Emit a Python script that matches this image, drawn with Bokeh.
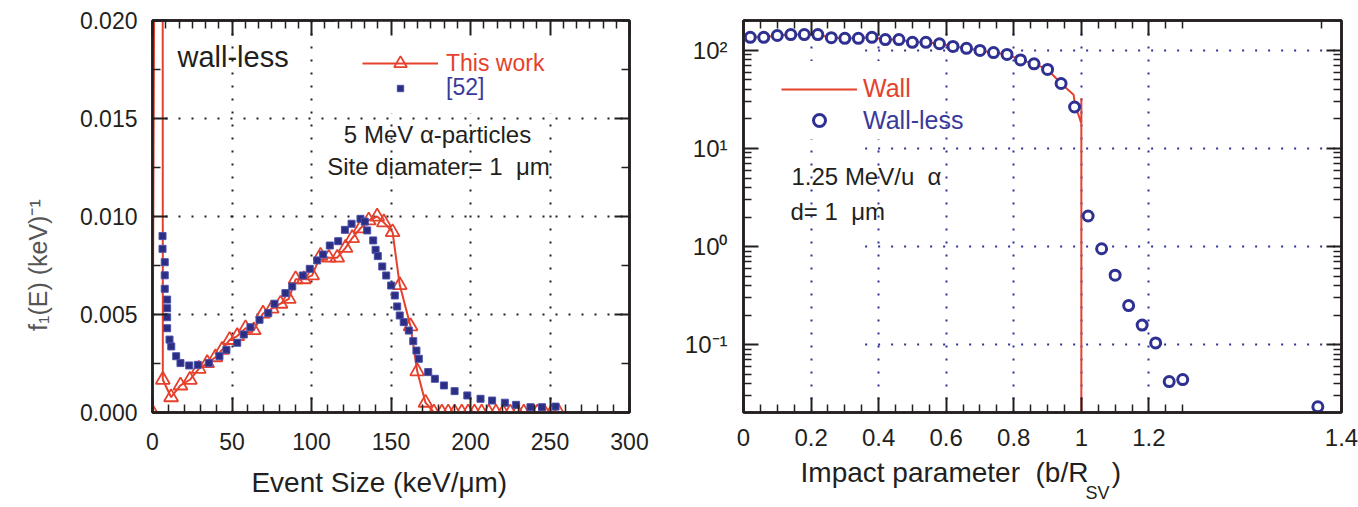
from bokeh.plotting import figure
from bokeh.layouts import row
from bokeh.models import (Range1d, LinearAxis, LogAxis, FixedTicker, Label, Legend, LegendItem,
                          BoxAnnotation, CustomJSTickFormatter, PrintfTickFormatter)
from bokeh.embed import file_html
from bokeh.resources import INLINE

FONT = "'Liberation Sans', Arial, sans-serif"
BLACK = "#231f20"
GRAY = "#555555"
RED = "#e5412d"
BLUE = "#2e3192"
TBLUE = "#3a3a9a"
NB = "\u00a0"

# ---------------- left panel data (event size spectra) ----------------
this_work_x = [0.0, 6.0, 6.5, 11.7, 17.6, 23.5, 29.1, 34.4, 39.6, 43.8, 48.5, 53.3, 58.5, 63.7,
               69.5, 75.0, 80.5, 85.7, 90.0, 95.2, 100.4, 105.7, 110.9, 116.2, 121.4, 125.6,
               130.8, 136.0, 141.3, 145.5, 151.0, 155.5, 162.3, 166.5, 171.7, 177.0, 182.0,
               186.0, 190.0, 194.5, 198.5, 202.5, 207.0, 211.5, 216.0, 220.5, 225.0, 229.5,
               233.5, 238.0, 242.0, 246.5, 251.0, 255.5]
this_work_y = [0.0, 0.12, 0.00167, 0.00078, 0.00138, 0.00167, 0.00223, 0.00252, 0.00282, 0.0032,
               0.0037, 0.0039, 0.0043, 0.0042, 0.00505, 0.0053, 0.00555, 0.0058, 0.0068, 0.0068,
               0.0070, 0.0080, 0.0079, 0.0079, 0.0084, 0.0089, 0.0094, 0.0098, 0.0100, 0.0097,
               0.0092, 0.0065, 0.0044, 0.0021, 0.0005, 0.0, 0.0,
               0.0, 0.0, 0.0, 0.0, 0.0, 0.0, 0.0, 0.0, 0.0, 0.0, 0.0,
               0.0, 0.0, 0.0, 0.0, 0.0, 0.0]

ref52_x = [6.3, 6.3, 7.7, 7.7, 7.7, 9.2, 9.2, 9.2, 9.2, 10.7, 11.8, 14.9, 17.6, 23.1, 28.5,
           35.4, 42.1, 46.5, 53.3, 57.4, 61.6, 67.3, 72.8, 76.7, 83.6, 87.9, 94.5, 98.9, 103.6,
           107.3, 111.5, 116.8, 121.0, 125.2, 130.8, 133.5, 135.0, 138.8, 140.3, 141.7, 144.5,
           147.0, 150.1, 152.4, 153.9, 155.5, 158.0, 161.2, 164.0, 166.0, 167.5, 173.4, 177.6,
           183.3, 190.0, 198.0, 206.3, 213.6, 221.6, 228.7, 237.7, 245.0, 253.5]
ref52_y = [0.0090, 0.00835, 0.00767, 0.0070, 0.00631, 0.00576, 0.00532, 0.00486, 0.0043,
           0.00372, 0.00337, 0.00287, 0.00252, 0.0024, 0.00243, 0.00252, 0.00287, 0.0032,
           0.00356, 0.00398, 0.00435, 0.00473, 0.00507, 0.00555, 0.00609, 0.00643, 0.00699,
           0.00733, 0.00776, 0.00806, 0.00852, 0.00874, 0.00932, 0.00963, 0.00988, 0.00974,
           0.00929, 0.00878, 0.0083, 0.00798, 0.00745, 0.00699, 0.00648, 0.00597, 0.00541,
           0.00495, 0.00461, 0.00418, 0.00364, 0.00316, 0.00274, 0.00206, 0.00172, 0.00138,
           0.00109, 0.00087, 0.0007, 0.00061, 0.0005, 0.00039, 0.00027, 0.00027, 0.0003]

left_xticks = [0, 50, 100, 150, 200, 250, 300]
left_yticks = [0.0, 0.005, 0.010, 0.015, 0.020]

# ---------------- right panel data (impact parameter) ----------------
wall_less_b = [0.02, 0.06, 0.10, 0.14, 0.18, 0.22, 0.26, 0.30, 0.34, 0.38, 0.42, 0.46, 0.50,
               0.54, 0.58, 0.62, 0.66, 0.70, 0.74, 0.78, 0.82, 0.86, 0.90, 0.94, 0.98, 1.02,
               1.06, 1.10, 1.14, 1.18, 1.22, 1.26, 1.30, 1.70]
wall_less_f = [136, 136, 142, 145, 145, 145, 135, 133, 133, 136, 129, 129, 121, 121, 117, 110,
               105, 100, 95, 91, 80, 73, 64, 46, 26.5, 2.05, 0.95, 0.51, 0.25, 0.158, 0.104,
               0.042, 0.044, 0.0232]
wall_b = [0.0, 0.02, 0.06, 0.10, 0.14, 0.18, 0.22, 0.26, 0.30, 0.34, 0.38, 0.42, 0.46, 0.50,
          0.54, 0.58, 0.62, 0.66, 0.70, 0.74, 0.78, 0.82, 0.86, 0.90, 0.94, 0.977, 0.982,
          0.992, 1.0, 1.0, 1.0]
wall_f = [135, 136, 136, 142, 145, 145, 145, 135, 133, 133, 136, 129, 129, 121, 121, 117, 110,
          105, 100, 95, 91, 80, 73, 64, 46, 35.4, 26.5, 21.8, 17.9, 32.5, 0.01]

right_xticks = [0, 0.2, 0.4, 0.6, 0.8, 1.0, 1.2, 1.77]
right_xtick_labels = ["0", "0.2", "0.4", "0.6", "0.8", "1", "1.2", "1.4"]
right_yticks = [0.1, 1, 10, 100]
right_ytick_labels = ["10\u207b\u00b9", "10\u2070", "10\u00b9", "10\u00b2"]


def style_axis(ax, ticks, minor, formatter=None, size="23px", standoff=14):
    ax.ticker = FixedTicker(ticks=ticks, minor_ticks=minor)
    ax.axis_line_color = BLACK
    ax.axis_line_width = 2.5
    ax.major_tick_line_color = BLACK
    ax.major_tick_line_width = 2
    ax.minor_tick_line_color = BLACK
    ax.minor_tick_line_width = 1.5
    ax.major_tick_in = 15
    ax.major_tick_out = 0
    ax.minor_tick_in = 8
    ax.minor_tick_out = 0
    ax.major_label_text_font = FONT
    ax.major_label_text_font_size = size
    ax.major_label_text_color = BLACK
    ax.major_label_standoff = standoff
    ax.axis_label_text_font = FONT
    ax.axis_label_text_font_style = "normal"
    ax.axis_label_text_line_height = 0.8
    if formatter is not None:
        ax.formatter = formatter


def blank():
    return CustomJSTickFormatter(code="return ''")


# ======================= LEFT =======================
p1 = figure(width=680, height=507, x_range=Range1d(0, 300), y_range=Range1d(0, 0.02),
            output_backend="svg", toolbar_location=None,
            min_border_left=152, min_border_right=51, min_border_top=20, min_border_bottom=95)
p1.outline_line_color = BLACK
p1.outline_line_width = 2.5
p1.background_fill_color = "white"
p1.border_fill_color = "white"

x_minor_b = [v for v in range(10, 300, 10) if v % 50]
x_minor_t = [50 * k + 50 * j / 6 for k in range(6) for j in range(1, 6)]
y_minor = [0.0025, 0.0075, 0.0125, 0.0175]

xa = p1.xaxis[0]
style_axis(xa, left_xticks, x_minor_b, standoff=20)
xa.axis_label = "Event Size (keV/\u03bcm)" + NB * 3
xa.axis_label_text_font_size = "28px"
xa.axis_label_text_color = BLACK
xa.axis_label_standoff = 14

ya = p1.yaxis[0]
style_axis(ya, left_yticks, y_minor, PrintfTickFormatter(format="%.3f"), standoff=15)
ya.axis_label = "f\u2081(E) (keV)\u207b\u00b9" + NB * 14
ya.axis_label_text_font_size = "25px"
ya.axis_label_text_color = GRAY
ya.axis_label_standoff = 25
ya.axis_label_text_line_height = 1.2

top1 = LinearAxis()
style_axis(top1, left_xticks, x_minor_t, blank(), standoff=0)
p1.add_layout(top1, "above")
right1 = LinearAxis()
style_axis(right1, left_yticks, y_minor, blank(), standoff=0)
p1.add_layout(right1, "right")

p1.xgrid.ticker = FixedTicker(ticks=[50, 100, 150, 200, 250])
p1.ygrid.ticker = FixedTicker(ticks=[0.005, 0.010, 0.015])
for g in (p1.xgrid[0], p1.ygrid[0]):
    g.grid_line_color = BLACK
    g.grid_line_width = 2
    g.grid_line_dash = "2 11"

p1.add_layout(BoxAnnotation(left=115, right=295, bottom=0.01525, top=0.02,
                            fill_color="white", fill_alpha=1, line_alpha=0, level="underlay"))

r_line = p1.line(this_work_x, this_work_y, line_color=RED, line_width=2)
r_tri = p1.scatter(this_work_x, this_work_y, marker="triangle", size=14, line_color=RED,
                   line_width=1.8, fill_alpha=0)
r_sq = p1.scatter(ref52_x, ref52_y, marker="square", size=7, fill_color="#2b2e83",
                  line_color="#4b50aa", line_width=1)

leg_a = Legend(items=[LegendItem(label="This work", renderers=[r_line, r_tri])],
               location=(210, 333), glyph_width=76, glyph_height=32, label_height=20,
               label_standoff=8, padding=0, margin=0, spacing=0,
               background_fill_alpha=0, border_line_alpha=0,
               label_text_font=FONT, label_text_font_size="23px", label_text_color=RED)
leg_b = Legend(items=[LegendItem(label="[52]", renderers=[r_sq])],
               location=(210, 311), glyph_width=76, glyph_height=16, label_height=20,
               label_standoff=8, padding=0, margin=0, spacing=0,
               background_fill_alpha=0, border_line_alpha=0,
               label_text_font=FONT, label_text_font_size="23px", label_text_color=TBLUE)
p1.add_layout(leg_a)
p1.add_layout(leg_b)


def lab(p, x, y, text, size="24px", color=BLACK, align="left"):
    p.add_layout(Label(x=x, y=y, x_units="screen", y_units="screen", text=text,
                       text_font=FONT, text_font_size=size, text_color=color,
                       text_align=align, text_baseline="middle"))


lab(p1, 25, 356, "wall-less", size="29px")
lab(p1, 285, 278, "5 MeV \u03b1-particles", size="24px", align="center")
lab(p1, 286, 246, "Site diamater= 1 \u00a0\u03bcm", size="24px", align="center")

# ======================= RIGHT =======================
p2 = figure(width=678, height=507, x_range=Range1d(0, 1.77), y_range=Range1d(0.0203, 202),
            y_axis_type="log", output_backend="svg", toolbar_location=None,
            min_border_left=63, min_border_right=17, min_border_top=20, min_border_bottom=94)
p2.outline_line_color = BLACK
p2.outline_line_width = 2.5
p2.background_fill_color = "white"
p2.border_fill_color = "white"

rx_minor_b = [round(0.05 * k, 2) for k in range(1, 27) if k % 4]
rx_minor_t = rx_minor_b + [1.71]
ry_minor = [m * 10.0 ** e for e in range(-2, 3) for m in range(2, 10)]

xb = p2.xaxis[0]
style_axis(xb, right_xticks, rx_minor_b,
           CustomJSTickFormatter(args=dict(labels=right_xtick_labels), code="return labels[index]"),
           size="24px", standoff=16)
xb.axis_label = "Impact parameter" + NB * 2 + "(b/R" + NB * 3 + ")" + NB * 21
xb.axis_label_text_font_size = "28px"
xb.axis_label_text_color = BLACK
xb.axis_label_standoff = 8

sub_ax = LinearAxis(ticker=FixedTicker(ticks=[]), axis_line_color=None,
                    major_tick_line_color=None, minor_tick_line_color=None,
                    major_label_standoff=0, major_label_text_font_size="0px",
                    axis_label=NB * 22 + "SV", axis_label_standoff=-8,
                    axis_label_text_font=FONT, axis_label_text_font_style="normal",
                    axis_label_text_line_height=0.8,
                    axis_label_text_font_size="18px", axis_label_text_color=BLACK)
p2.add_layout(sub_ax, "below")

yb = p2.yaxis[0]
style_axis(yb, right_yticks, ry_minor,
           CustomJSTickFormatter(args=dict(labels=right_ytick_labels), code="return labels[index]"),
           size="24px", standoff=16)
top2 = LinearAxis()
style_axis(top2, right_xticks[:-1], rx_minor_t, blank(), standoff=0)
p2.add_layout(top2, "above")
right2 = LogAxis()
style_axis(right2, right_yticks, ry_minor, blank(), standoff=0)
p2.add_layout(right2, "right")

p2.xgrid.ticker = FixedTicker(ticks=[0.2, 0.4, 0.6, 0.8, 1.0, 1.2])
p2.xgrid.grid_line_color = BLUE
p2.xgrid.grid_line_width = 2
p2.xgrid.grid_line_dash = "2 11"
p2.ygrid.visible = False
p2.segment(x0=0.36, x1=1.77, y0=right_yticks, y1=right_yticks, line_color=BLUE,
           line_width=2, line_dash="2 11", level="underlay")

p2.add_layout(BoxAnnotation(left=0.09, right=0.57, bottom=12.5, top=78,
                            fill_color="white", fill_alpha=1, line_alpha=0, level="underlay"))

w_line = p2.line(wall_b, wall_f, line_color=RED, line_width=2)
w_pts = p2.scatter(wall_less_b, wall_less_f, marker="circle", size=10, fill_color="white",
                   line_color=BLUE, line_width=3)

leg_c = Legend(items=[LegendItem(label="Wall", renderers=[w_line])],
               location=(38, 309), glyph_width=76, glyph_height=20, label_height=20,
               label_standoff=6, padding=0, margin=0, spacing=0,
               background_fill_alpha=0, border_line_alpha=0,
               label_text_font=FONT, label_text_font_size="25px", label_text_color=RED)
leg_d = Legend(items=[LegendItem(label="Wall-less", renderers=[w_pts])],
               location=(38, 277), glyph_width=76, glyph_height=30, label_height=20,
               label_standoff=6, padding=0, margin=0, spacing=0,
               background_fill_alpha=0, border_line_alpha=0,
               label_text_font=FONT, label_text_font_size="25px", label_text_color=TBLUE)
p2.add_layout(leg_c)
p2.add_layout(leg_d)

lab(p2, 48, 236, "1.25 MeV/u \u00a0\u03b1", size="24px")
lab(p2, 47, 201, "d= 1 \u00a0\u03bcm", size="24px")

layout = row(p1, p2)
open("out.html", "w").write(file_html(layout, INLINE))
